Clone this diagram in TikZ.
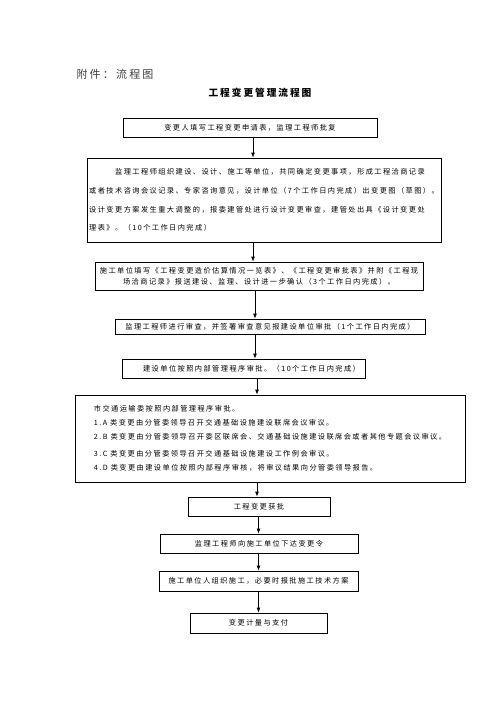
\documentclass[tikz,border=0pt]{standalone}
\usepackage{fontspec}
\newfontfamily\cjk[LetterSpace=20]{Noto Sans CJK SC}
\usetikzlibrary{arrows.meta}

\tikzset{
  flowbox/.style={draw, line width=0.8pt, inner sep=2pt, align=center,
    font=\cjk\fontsize{7.2}{14}\selectfont},
}

\begin{document}
\begin{tikzpicture}[x=1pt, y=-1pt, >={Latex[length=5pt,width=4pt]}, line cap=round]

  % --- Hoja ---
  \useasboundingbox (0,0) rectangle (496,702);
  \fill[white] (0,0) rectangle (496,702);

  % --- Encabezados ---
  \node[text=black!75, font=\cjk\fontsize{11}{13}\selectfont] (annex) at (115,74) {附件：流程图};
  \node[font=\cjk\bfseries\fontsize{9.7}{12}\selectfont] (title) at (260,93) {工程变更管理流程图};

  % --- Cajas del flujo ---
  \node[flowbox, minimum width=254, minimum height=19] (apply) at (250,127.5)
    {变更人填写工程变更申请表，监理工程师批复};
  \node[flowbox, minimum width=354, minimum height=84, align=left,
        font=\cjk\fontsize{7.2}{18.7}\selectfont] (confirm) at (264,200)
    {\hspace*{26pt}监理工程师组织建设、设计、施工等单位，共同确定变更事项，形成工程洽商记录\\
     或者技术咨询会议记录、专家咨询意见，设计单位（7个工作日内完成）出变更图（草图）。\\
     设计变更方案发生重大调整的，报委建管处进行设计变更审查，建管处出具《设计变更处\\
     理表》。（10个工作日内完成）};
  \node[flowbox, minimum width=328, minimum height=28,
        font=\cjk\fontsize{7.2}{11}\selectfont] (cost) at (259,276)
    {施工单位填写《工程变更造价估算情况一览表》、《工程变更审批表》并附《工程现\\
     场洽商记录》报送建设、监理、设计进一步确认（3个工作日内完成）。};
  \node[flowbox, minimum width=310, minimum height=15] (review) at (270,326.5)
    {监理工程师进行审查，并签署审查意见报建设单位审批（1个工作日内完成）};
  \node[flowbox, minimum width=243, minimum height=19] (owner) at (243.5,368.5)
    {\hspace*{16pt}建设单位按照内部管理程序审批。（10个工作日内完成）};
  \node[flowbox, minimum width=390, minimum height=87, align=left] (commission) at (270,438.5)
    {市交通运输委按照内部管理程序审批。\\
     1.A 类变更由分管委领导召开交通基础设施建设联席会议审议。\\
     2.B 类变更由分管委领导召开委区联席会、交通基础设施建设联席会或者其他专题会议审议。\\[3pt]
     3.C 类变更由分管委领导召开交通基础设施建设工作例会审议。\\
     4.D 类变更由建设单位按照内部程序审核，将审议结果向分管委领导报告。};
  \node[flowbox, minimum width=142, minimum height=19] (approved) at (259,506.5) {工程变更获批};
  \node[flowbox, minimum width=198, minimum height=19] (order) at (259,543.5) {监理工程师向施工单位下达变更令};
  \node[flowbox, minimum width=199, minimum height=20] (build) at (258.5,581) {施工单位人组织施工，必要时报批施工技术方案};
  \node[flowbox, minimum width=137, minimum height=20] (pay) at (258.5,623) {变更计量与支付};

  % --- Ejes de las flechas ---
  \coordinate (a1) at (253,0);
  \coordinate (a2) at (255,0);
  \coordinate (a3) at (257,0);
  \coordinate (a4) at (258.5,0);

  % --- Flechas ---
  \draw[->, line width=0.8pt] (apply.south -| a1) -- (confirm.north -| a1);
  \draw[->, line width=0.8pt] (confirm.south -| a1) -- (cost.north -| a1);
  \draw[->, line width=0.8pt] (cost.south -| a2) -- (review.north -| a2);
  \draw[->, line width=0.8pt] (review.south -| a2) -- (owner.north -| a2);
  \draw[->, line width=0.8pt] (owner.south -| a3) -- (commission.north -| a3);
  \draw[->, line width=0.8pt] (commission.south -| a3) -- (approved.north -| a3);
  \draw[->, line width=0.8pt] (approved.south -| a4) -- (order.north -| a4);
  \draw[->, line width=0.8pt] (order.south -| a4) -- (build.north -| a4);
  \draw[->, line width=0.8pt] (build.south -| a4) -- (pay.north -| a4);

\end{tikzpicture}
\end{document}
